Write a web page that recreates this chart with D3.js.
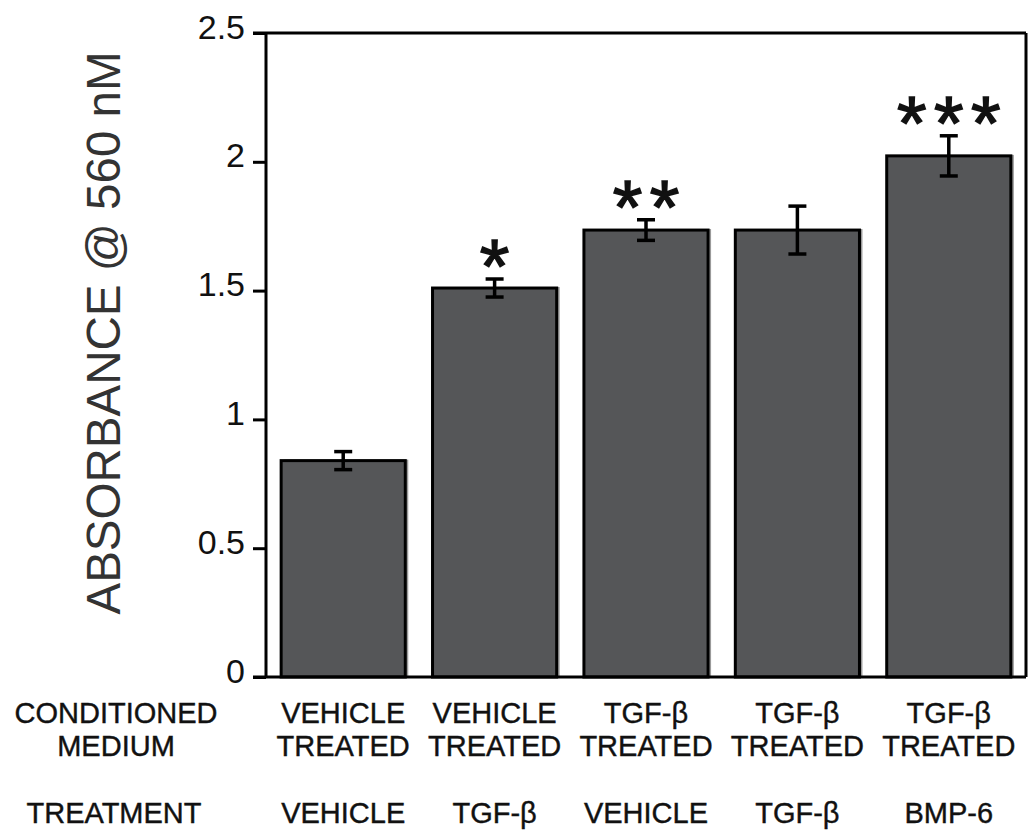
<!DOCTYPE html>
<html>
<head>
<meta charset="utf-8">
<script src="https://cdn.jsdelivr.net/npm/d3@7"></script>
<style>
  body { margin: 0; background: #fff; }
  text { font-family: "Liberation Sans", Arial, sans-serif; }
</style>
</head>
<body>
<svg id="chart" width="1035" height="830"></svg>
<script>
// Data
const mediumLine1 = ["VEHICLE", "VEHICLE", "TGF-β", "TGF-β", "TGF-β"];
const mediumLine2 = ["TREATED", "TREATED", "TREATED", "TREATED", "TREATED"];
const treatments = ["VEHICLE", "TGF-β", "VEHICLE", "TGF-β", "BMP-6"];
const means = [0.84, 1.51, 1.735, 1.735, 2.023];
const errors = [0.035, 0.035, 0.04, 0.093, 0.078];
const stars = ["", "*", "**", "", "***"];
const yTicks = [0, 0.5, 1, 1.5, 2, 2.5];
const yLabel = "ABSORBANCE @ 560 nM";

// Layout
const plotLeft = 266, plotRight = 1026, plotTop = 33, plotBottom = 677;
const tickLen = 13;

const svg = d3.select("#chart");

const x = d3.scaleBand()
  .domain(d3.range(means.length))
  .range([plotLeft, plotRight])
  .paddingInner(0.18)
  .paddingOuter(0.1);

const y = d3.scaleLinear()
  .domain([0, 2.5])
  .range([plotBottom, plotTop]);

// Bars (with a light drop shadow)
const bars = svg.append("g");
bars.selectAll("rect.shadow")
  .data(means)
  .join("rect")
  .attr("class", "shadow")
  .attr("x", (d, i) => x(i) + 3)
  .attr("y", d => y(d) - 1)
  .attr("width", x.bandwidth())
  .attr("height", d => plotBottom - y(d) + 1)
  .attr("fill", "#9a9a9a");
bars.selectAll("rect.bar")
  .data(means)
  .join("rect")
  .attr("class", "bar")
  .attr("x", (d, i) => x(i))
  .attr("y", d => y(d))
  .attr("width", x.bandwidth())
  .attr("height", d => plotBottom - y(d))
  .attr("fill", "#555658")
  .attr("stroke", "#000")
  .attr("stroke-width", 3);

// Error bars
const capW = 18;
const err = svg.append("g").attr("stroke", "#000").attr("stroke-width", 3.5);
means.forEach((m, i) => {
  const cx = x(i) + x.bandwidth() / 2;
  const y1 = y(m + errors[i]), y0 = y(m - errors[i]);
  err.append("line").attr("x1", cx).attr("x2", cx).attr("y1", y1).attr("y2", y0);
  err.append("line").attr("x1", cx - capW / 2).attr("x2", cx + capW / 2).attr("y1", y1).attr("y2", y1);
  err.append("line").attr("x1", cx - capW / 2).attr("x2", cx + capW / 2).attr("y1", y0).attr("y2", y0);
});

// Significance stars
const starSize = 76, starGap = 37;
stars.forEach((s, i) => {
  const cx = x(i) + x.bandwidth() / 2;
  const base = y(means[i] + errors[i]) - 9 + 0.29 * starSize;
  for (let k = 0; k < s.length; k++) {
    svg.append("text")
      .attr("x", cx + (k - (s.length - 1) / 2) * starGap)
      .attr("y", base)
      .attr("text-anchor", "middle")
      .attr("font-size", starSize)
      .attr("fill", "#111")
      .attr("stroke", "#111")
      .attr("stroke-width", 1.5)
      .text("*");
  }
});

// Frame
const frame = svg.append("g").attr("stroke", "#000").attr("stroke-width", 3).attr("fill", "none");
frame.append("line").attr("x1", plotLeft - tickLen).attr("x2", plotRight).attr("y1", plotTop).attr("y2", plotTop);
frame.append("line").attr("x1", plotLeft - tickLen).attr("x2", plotRight).attr("y1", plotBottom).attr("y2", plotBottom);
frame.append("line").attr("x1", plotRight).attr("x2", plotRight).attr("y1", plotTop).attr("y2", plotBottom);

// Y axis
const yAxis = svg.append("g")
  .attr("transform", `translate(${plotLeft},0)`)
  .call(d3.axisLeft(y).tickValues(yTicks).tickFormat(d => String(d)).tickSize(tickLen).tickPadding(8));
yAxis.select(".domain").attr("stroke-width", 3).attr("d", `M0,${plotTop}V${plotBottom}`);
yAxis.selectAll(".tick line").attr("stroke-width", 3);
yAxis.selectAll(".tick text")
  .attr("font-size", 34)
  .attr("font-family", "Liberation Sans, Arial, sans-serif")
  .attr("fill", "#111")
  .attr("dy", "0.15em");

svg.append("text")
  .attr("transform", `translate(120,333) rotate(-90)`)
  .attr("text-anchor", "middle")
  .attr("font-size", 47.5)
  .attr("fill", "#333")
  .text(yLabel);

// Category labels under the bars
const labelSize = 29;
const rowY = [723, 756, 823];
const cats = svg.append("g").attr("font-size", labelSize).attr("fill", "#111")
  .attr("text-anchor", "middle").attr("stroke", "#111").attr("stroke-width", 0.4);
means.forEach((m, i) => {
  const cx = x(i) + x.bandwidth() / 2;
  cats.append("text").attr("x", cx).attr("y", rowY[0]).text(mediumLine1[i]);
  cats.append("text").attr("x", cx).attr("y", rowY[1]).text(mediumLine2[i]);
  cats.append("text").attr("x", cx).attr("y", rowY[2]).text(treatments[i]);
});
cats.append("text").attr("x", 116).attr("y", rowY[0]).text("CONDITIONED");
cats.append("text").attr("x", 116).attr("y", rowY[1]).text("MEDIUM");
cats.append("text").attr("x", 114).attr("y", rowY[2]).text("TREATMENT");
</script>
</body>
</html>
